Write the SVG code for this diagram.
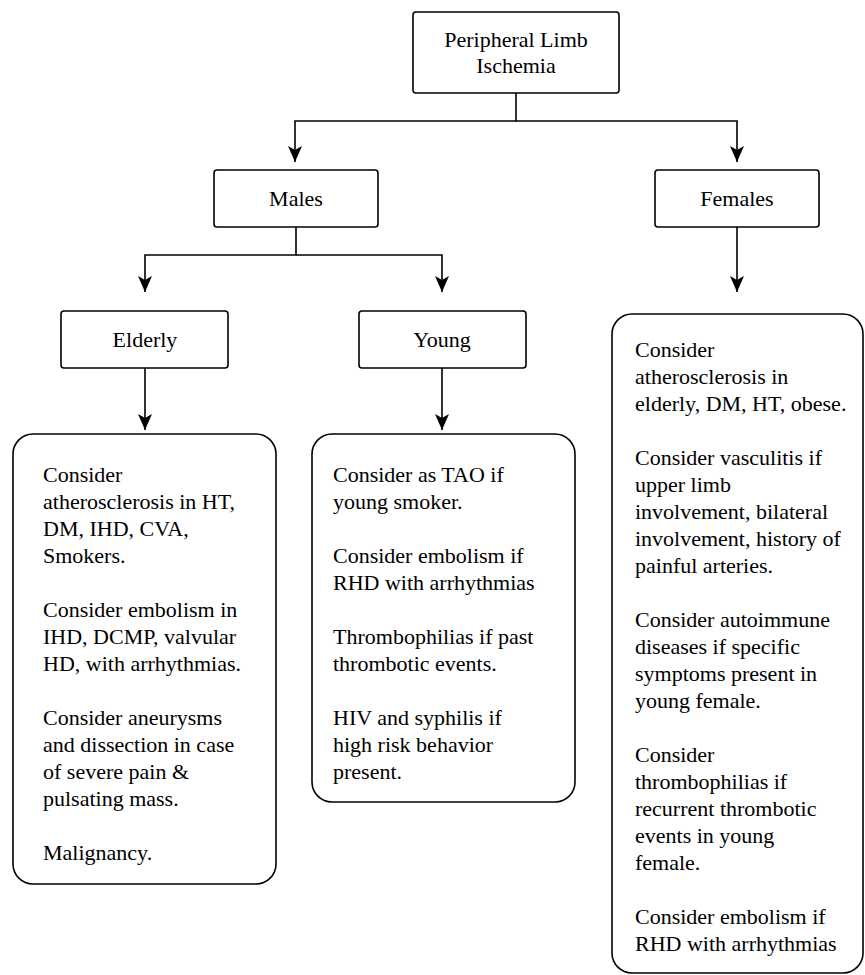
<svg xmlns="http://www.w3.org/2000/svg" width="865" height="975" viewBox="0 0 865 975">
<defs>
<marker id="arr" viewBox="-1 -8 18 16" refX="16" refY="0" markerWidth="18" markerHeight="16" markerUnits="userSpaceOnUse" orient="auto">
<path d="M0,-7 L16,0 L0,7 L4,0 Z" fill="#000"/>
</marker>
<style>
.box{fill:#fff;stroke:#000;stroke-width:1.6}
.t{font-family:"Liberation Serif","Times New Roman",serif;font-size:22px;fill:#000}
.c{text-anchor:middle}
.ln{fill:none;stroke:#000;stroke-width:1.6}
</style>
</defs>
<rect width="865" height="975" fill="#fff"/>
<g id="connectors">
<path class="ln" d="M516,93 V121 H295 V162" marker-end="url(#arr)"/>
<path class="ln" d="M516,121 H737 V162" marker-end="url(#arr)"/>
<path class="ln" d="M296,227 V255 H145 V292" marker-end="url(#arr)"/>
<path class="ln" d="M296,255 H442 V292" marker-end="url(#arr)"/>
<path class="ln" d="M737,227 V292" marker-end="url(#arr)"/>
<path class="ln" d="M145,368 V430" marker-end="url(#arr)"/>
<path class="ln" d="M442,368 V430" marker-end="url(#arr)"/>
</g>
<g id="root">
<rect class="box" x="413" y="12" width="206" height="81" rx="3"/>
<text class="t c"><tspan x="516" y="47">Peripheral Limb</tspan><tspan x="516" y="73">Ischemia</tspan></text>
</g>
<g id="males">
<rect class="box" x="214" y="170" width="164" height="57" rx="3"/>
<text class="t c" x="296" y="206">Males</text>
</g>
<g id="females">
<rect class="box" x="655" y="170" width="164" height="57" rx="3"/>
<text class="t c" x="737" y="206">Females</text>
</g>
<g id="elderly">
<rect class="box" x="61" y="311" width="167" height="57" rx="3"/>
<text class="t c" x="145" y="347">Elderly</text>
</g>
<g id="young">
<rect class="box" x="359" y="311" width="167" height="57" rx="3"/>
<text class="t c" x="442" y="347">Young</text>
</g>
<g id="elderly-notes">
<rect class="box" x="13" y="434" width="263" height="450" rx="20"/>
<text class="t">
<tspan x="43" y="482">Consider</tspan>
<tspan x="43" y="509">atherosclerosis in HT,</tspan>
<tspan x="43" y="536">DM, IHD, CVA,</tspan>
<tspan x="43" y="563">Smokers.</tspan>
<tspan x="43" y="617">Consider embolism in</tspan>
<tspan x="43" y="644">IHD, DCMP, valvular</tspan>
<tspan x="43" y="671">HD, with arrhythmias.</tspan>
<tspan x="43" y="725">Consider aneurysms</tspan>
<tspan x="43" y="752">and dissection in case</tspan>
<tspan x="43" y="779">of severe pain &amp;</tspan>
<tspan x="43" y="806">pulsating mass.</tspan>
<tspan x="43" y="860">Malignancy.</tspan>
</text>
</g>
<g id="young-notes">
<rect class="box" x="312" y="434" width="263" height="368" rx="20"/>
<text class="t">
<tspan x="333" y="482">Consider as TAO if</tspan>
<tspan x="333" y="509">young smoker.</tspan>
<tspan x="333" y="563">Consider embolism if</tspan>
<tspan x="333" y="590">RHD with arrhythmias</tspan>
<tspan x="333" y="644">Thrombophilias if past</tspan>
<tspan x="333" y="671">thrombotic events.</tspan>
<tspan x="333" y="725">HIV and syphilis if</tspan>
<tspan x="333" y="752">high risk behavior</tspan>
<tspan x="333" y="779">present.</tspan>
</text>
</g>
<g id="female-notes">
<rect class="box" x="612" y="314" width="251" height="659" rx="20"/>
<text class="t">
<tspan x="635" y="357">Consider</tspan>
<tspan x="635" y="384">atherosclerosis in</tspan>
<tspan x="635" y="411">elderly, DM, HT, obese.</tspan>
<tspan x="635" y="465">Consider vasculitis if</tspan>
<tspan x="635" y="492">upper limb</tspan>
<tspan x="635" y="519">involvement, bilateral</tspan>
<tspan x="635" y="546">involvement, history of</tspan>
<tspan x="635" y="573">painful arteries.</tspan>
<tspan x="635" y="627">Consider autoimmune</tspan>
<tspan x="635" y="654">diseases if specific</tspan>
<tspan x="635" y="681">symptoms present in</tspan>
<tspan x="635" y="708">young female.</tspan>
<tspan x="635" y="762">Consider</tspan>
<tspan x="635" y="789">thrombophilias if</tspan>
<tspan x="635" y="816">recurrent thrombotic</tspan>
<tspan x="635" y="843">events in young</tspan>
<tspan x="635" y="870">female.</tspan>
<tspan x="635" y="924">Consider embolism if</tspan>
<tspan x="635" y="951">RHD with arrhythmias</tspan>
</text>
</g>
</svg>
